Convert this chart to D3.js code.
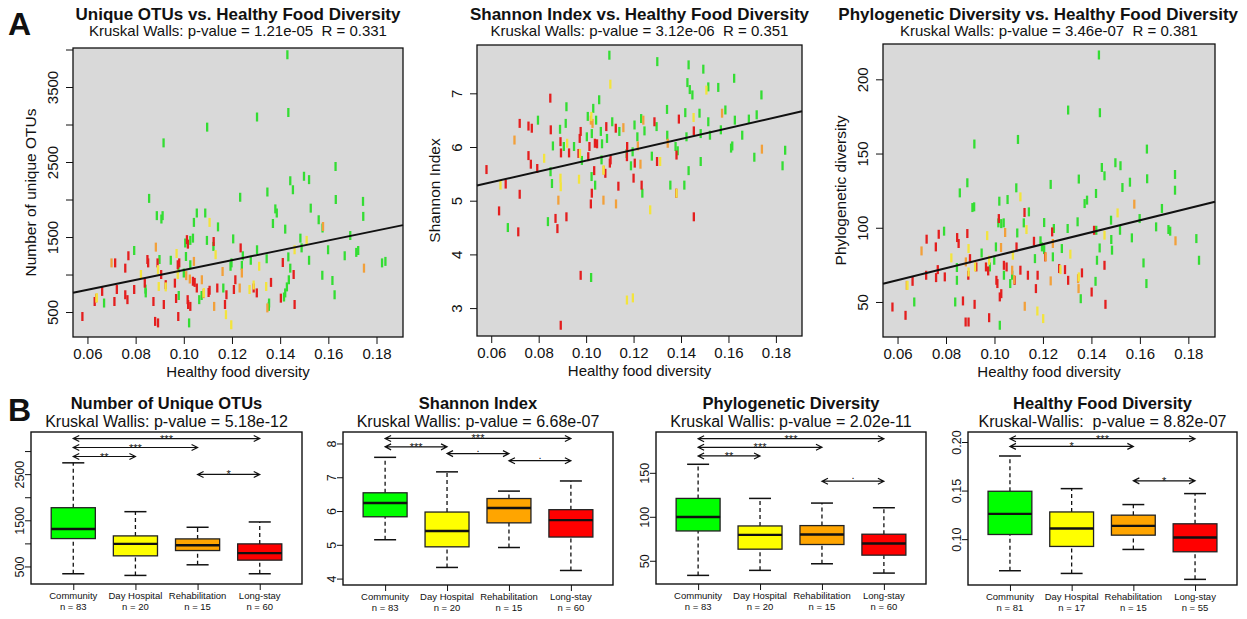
<!DOCTYPE html>
<meta charset="utf-8">
<script src="https://cdn.jsdelivr.net/npm/d3@7"></script>
<style>
body{margin:0;background:#fff;}
text{font-family:"Liberation Sans",Arial,sans-serif;fill:#111;}
</style>
<body>
<script>
// ---- data ----
var groups = ["Community","Day Hospital","Rehabilitation","Long-stay"];
var groupN = [83,20,15,60];
var hfdN = [81,17,15,55];
var boxFill = ["#00ff00","#ffff00","#ffa500","#ff0000"];
var dotColour = ["#33dd33","#f3e43c","#f2a03a","#e41e1e"];

var hfdDomain = [0.054,0.191];
var hfdTicks = [0.06,0.08,0.10,0.12,0.14,0.16,0.18];

// scatter points: [healthy food diversity, value, group index]
var otuPoints = [
[0.143,3930,0],[0.1434,3160,0],[0.1304,3100,0],[0.1097,2965,0],[0.0916,2755,0],[0.0856,2015,0],[0.163,2440,0],[0.1499,2310,0],
[0.152,2265,0],[0.1442,2250,0],[0.1453,2130,0],[0.1347,2100,0],[0.1234,2030,0],[0.1631,2000,0],[0.1744,1975,0],[0.1527,1885,0],
[0.138,1875,0],[0.1386,1820,0],[0.1054,1820,0],[0.1089,1820,0],[0.0888,1785,0],[0.0912,1785,0],[0.0907,1740,0],[0.1745,1775,0],
[0.1042,1695,0],[0.156,1730,0],[0.137,1680,0],[0.1142,1635,0],[0.1421,1605,0],[0.1576,1620,0],[0.1691,1520,0],[0.1205,1475,0],
[0.1484,1485,0],[0.1006,1420,0],[0.1038,1485,0],[0.1027,1455,0],[0.1096,1455,0],[0.1123,1375,0],[0.0794,1320,0],[0.1304,1330,0],
[0.1599,1330,0],[0.1489,1355,0],[0.1716,1295,0],[0.1724,1320,0],[0.1009,1240,0],[0.0946,1190,0],[0.1344,1210,0],[0.1434,1235,0],
[0.1668,1250,0],[0.1245,1250,0],[0.1278,1190,0],[0.1241,1120,0],[0.1198,1155,0],[0.1194,1110,0],[0.1823,1155,0],[0.1837,1175,0],
[0.152,1190,0],[0.1027,1130,0],[0.1,1020,0],[0.0978,1085,0],[0.1442,1085,0],[0.1575,990,0],[0.1617,920,0],[0.1436,930,0],
[0.0841,805,0],[0.0842,755,0],[0.1428,835,0],[0.1421,755,0],[0.1416,700,0],[0.1626,730,0],[0.1064,665,0],[0.1074,720,0],
[0.1164,820,0],[0.0669,620,0],[0.0979,720,0],[0.1353,575,0],[0.1354,620,0],[0.1022,355,0],[0.0899,1200,0],
[0.0579,440,3],[0.063,640,3],[0.0661,775,3],[0.0715,1155,3],[0.0712,640,3],[0.0722,800,3],[0.0757,1085,3],[0.0757,730,3],
[0.0766,665,3],[0.077,1250,3],[0.0794,800,3],[0.0849,1200,3],[0.0838,885,3],[0.0852,1155,3],[0.0874,640,3],[0.0881,375,3],
[0.0893,355,3],[0.0891,1155,3],[0.0906,1000,3],[0.0917,600,3],[0.0925,865,3],[0.0963,885,3],[0.0968,680,3],[0.0977,440,3],
[0.0975,1130,3],[0.0981,1155,3],[0.1013,1465,3],[0.1016,665,3],[0.1018,600,3],[0.1027,575,3],[0.1017,1405,3],[0.1038,910,3],
[0.1054,820,3],[0.1103,760,3],[0.1107,790,3],[0.1124,1440,3],[0.1139,820,3],[0.1171,600,3],[0.1177,730,3],[0.1214,930,3],
[0.1236,1355,3],[0.129,820,3],[0.1303,755,3],[0.1362,895,3],[0.1411,1160,3],[0.1403,685,3],[0.1456,1000,3],[0.146,600,3],
[0.1208,800,3],[0.1045,895,3],
[0.07,1155,2],[0.0636,685,2],[0.0884,1365,2],[0.101,985,2],[0.1025,940,2],[0.1042,1175,2],[0.1075,930,2],[0.1126,575,2],
[0.1161,1040,2],[0.1232,820,2],[0.1241,1020,2],[0.1347,555,2],[0.1578,1640,2],[0.1748,1085,2],[0.1082,745,2],
[0.0639,690,1],[0.0822,1000,1],[0.0893,1065,1],[0.0896,840,1],[0.097,1280,1],[0.0975,1000,1],[0.1107,1695,1],[0.1132,1265,1],
[0.1083,760,1],[0.1175,465,1],[0.1197,330,1],[0.1273,800,1],[0.1313,1110,1],[0.1342,840,1],[0.146,1330,1],[0.151,1455,1],
[0.0925,835,1],[0.129,860,1]
];

var shannonPoints = [
[0.1098,7.71,0],[0.13,7.59,0],[0.1432,7.53,0],[0.1494,7.45,0],[0.1624,7.28,0],[0.1427,7.2,0],[0.1437,7.07,0],[0.1448,6.97,0],
[0.1515,7.12,0],[0.1557,7.11,0],[0.1739,6.97,0],[0.1055,6.88,0],[0.0917,6.75,0],[0.103,6.72,0],[0.1341,6.7,0],[0.1418,6.64,0],
[0.1587,6.69,0],[0.1478,6.63,0],[0.1007,6.57,0],[0.1042,6.5,0],[0.111,6.47,0],[0.1232,6.53,0],[0.1515,6.47,0],[0.1627,6.5,0],
[0.1719,6.6,0],[0.1686,6.52,0],[0.1204,6.41,0],[0.0914,6.44,0],[0.0797,6.5,0],[0.089,6.33,0],[0.1297,6.38,0],[0.1246,6.3,0],
[0.114,6.29,0],[0.1062,6.29,0],[0.1024,6.25,0],[0.1342,6.22,0],[0.1423,6.19,0],[0.1568,6.32,0],[0.1522,6.22,0],[0.1658,6.22,0],
[0.1483,6.25,0],[0.1088,6.16,0],[0.1216,6.19,0],[0.1003,6.19,0],[0.086,6.02,0],[0.0949,6.01,0],[0.0906,6.01,0],[0.1067,6.06,0],
[0.1377,6.01,0],[0.1386,5.93,0],[0.1616,6.02,0],[0.1611,5.98,0],[0.1277,5.83,0],[0.1196,5.91,0],[0.1171,5.88,0],[0.1189,5.65,0],
[0.1065,5.76,0],[0.0982,5.75,0],[0.1483,5.73,0],[0.1709,5.81,0],[0.1839,5.94,0],[0.1828,5.65,0],[0.1432,5.56,0],[0.1023,5.45,0],
[0.085,5.54,0],[0.1038,5.29,0],[0.0856,5.32,0],[0.1237,5.14,0],[0.1355,5.29,0],[0.1414,5.29,0],[0.0839,4.61,0],[0.067,4.5,0],
[0.1021,3.57,0],
[0.058,5.58,3],[0.0661,5.31,3],[0.0633,4.81,3],[0.072,5.12,3],[0.0714,4.42,3],[0.072,6.44,3],[0.0757,6.39,3],[0.0771,6.35,3],
[0.0757,5.84,3],[0.0767,5.68,3],[0.0794,5.6,3],[0.0849,6.91,3],[0.0851,6.32,3],[0.0892,6.1,3],[0.0894,5.89,3],[0.0928,5.89,3],
[0.0968,5.88,3],[0.0977,6.29,3],[0.0973,6.16,3],[0.0871,4.67,3],[0.0879,4.48,3],[0.0917,4.7,3],[0.0977,3.61,3],[0.0893,2.68,3],
[0.1009,5.82,3],[0.1014,6.01,3],[0.1037,6.07,3],[0.1034,5.56,3],[0.1046,6.06,3],[0.1024,5.14,3],[0.102,4.94,3],[0.1081,5.51,3],
[0.1085,6.38,3],[0.11,5.7,3],[0.1103,5.76,3],[0.1125,6.35,3],[0.1136,5.27,3],[0.1173,6.01,3],[0.1172,5.82,3],[0.12,5.42,3],
[0.1205,5.7,3],[0.1234,5.29,3],[0.1288,6.47,3],[0.1299,5.73,3],[0.138,5.14,3],[0.1381,5.85,3],[0.1391,6.52,3],[0.1454,6.3,3],
[0.1454,4.7,3],
[0.0698,6.13,2],[0.0883,5.01,2],[0.102,6.5,2],[0.1027,6.44,2],[0.1073,5.01,2],[0.1126,4.94,2],[0.1157,6.36,2],[0.1218,6.02,2],
[0.1229,5.68,2],[0.1241,6.5,2],[0.1344,6.07,2],[0.1573,6.63,2],[0.1741,5.96,2],[0.1074,5.57,2],
[0.0639,5.29,1],[0.0823,5.79,1],[0.0892,5.42,1],[0.0893,5.26,1],[0.097,5.4,1],[0.0974,5.88,1],[0.092,6.07,1],[0.1102,7.17,1],
[0.1172,3.15,1],[0.1197,3.19,1],[0.127,4.83,1],[0.1312,5.73,1],[0.1381,5.14,1],[0.1453,6.55,1],[0.1507,7.06,1],[0.1073,5.57,1],
[0.1022,6.57,1]
];

var pdPoints = [
[0.1431,216.4,0],[0.1435,177.5,0],[0.1304,179.3,0],[0.1097,159.5,0],[0.0917,156.4,0],[0.0857,123.5,0],[0.1629,153,0],[0.1499,143.8,0],
[0.152,141.8,0],[0.1443,140.6,0],[0.1454,135,0],[0.1348,132.8,0],[0.1232,129.2,0],[0.163,133,0],[0.1745,135.9,0],[0.1745,125.3,0],
[0.1528,127.1,0],[0.1559,130.7,0],[0.0888,130.3,0],[0.109,126.9,0],[0.1054,119,0],[0.102,117.9,0],[0.0909,113.6,0],[0.0916,114.1,0],
[0.1419,123.1,0],[0.1372,116.3,0],[0.1382,118.6,0],[0.1142,110.7,0],[0.1121,103.3,0],[0.1691,113,0],[0.1567,93.2,0],[0.1667,100.6,0],
[0.1718,98.8,0],[0.1725,97.7,0],[0.1599,106.2,0],[0.1481,105.1,0],[0.1482,92.1,0],[0.1518,98.3,0],[0.0792,97.7,0],[0.1205,103.5,0],
[0.1016,103.3,0],[0.1028,102.8,0],[0.1038,103.3,0],[0.1343,104,0],[0.1302,99.5,0],[0.1245,99.5,0],[0.142,98.3,0],[0.1094,96.5,0],
[0.1006,87.1,0],[0.0947,83,0],[0.1434,86.4,0],[0.1485,84.9,0],[0.1278,86,0],[0.119,91.2,0],[0.1196,87.1,0],[0.1205,85.3,0],
[0.1167,79.2,0],[0.1241,80.4,0],[0.1844,78.1,0],[0.1833,92.7,0],[0.1615,76.3,0],[0.1423,78.1,0],[0.1627,62.4,0],[0.1417,63.9,0],
[0.1356,52.2,0],[0.0845,73.2,0],[0.0845,64.6,0],[0.0838,50,0],[0.0669,50,0],[0.0999,78.1,0],[0.1039,68,0],[0.1065,62.4,0],
[0.1073,68,0],[0.1022,34.3,0],[0.0981,73.6,0],
[0.0579,46.6,3],[0.0633,41,3],[0.0662,63.9,3],[0.0718,68,3],[0.072,92.3,3],[0.0758,87.1,3],[0.077,95.6,3],[0.0766,71.8,3],
[0.0795,66.9,3],[0.0759,66.4,3],[0.0846,93.4,3],[0.0852,89.4,3],[0.0888,96.1,3],[0.087,50.7,3],[0.0881,36.5,3],[0.0893,36.5,3],
[0.0899,79.2,3],[0.0892,68,3],[0.0918,48.4,3],[0.0925,73.6,3],[0.0965,73.6,3],[0.0974,70.9,3],[0.0978,39.4,3],[0.1018,106.2,3],
[0.1008,64.6,3],[0.1012,62.4,3],[0.1022,53.4,3],[0.1028,55.6,3],[0.1039,74.7,3],[0.105,73.6,3],[0.1091,87.1,3],[0.1083,64.6,3],
[0.1107,71.4,3],[0.1124,110.3,3],[0.1138,68,3],[0.1163,90.9,3],[0.1171,59,3],[0.1178,68,3],[0.1209,80.4,3],[0.1238,97.2,3],
[0.1267,72.5,3],[0.1291,71.8,3],[0.1304,64.6,3],[0.1361,69.6,3],[0.1401,56.7,3],[0.1411,98.3,3],[0.1454,74.7,3],[0.1458,48.4,3],
[0.0699,84.4,2],[0.0638,61.2,2],[0.0882,77,2],[0.1027,86.7,2],[0.1044,96.8,2],[0.1073,71.4,2],[0.1081,65.1,2],[0.1125,47.1,2],
[0.1211,80.4,2],[0.1232,64.2,2],[0.1241,89.4,2],[0.1345,65.7,2],[0.1347,59,2],[0.1577,115.9,2],[0.1747,91.2,2],
[0.0641,61.2,1],[0.0822,79.7,1],[0.0893,86,1],[0.0893,70.2,1],[0.097,94.7,1],[0.0978,78.1,1],[0.1107,120.8,1],[0.1132,98.8,1],
[0.1177,43.9,1],[0.1201,38.8,1],[0.1272,71.8,1],[0.1313,82.2,1],[0.1348,66.9,1],[0.1454,95,1],[0.1508,110,1],[0.092,73.6,1],
[0.1076,81.5,1]
];

// fitted lines: [intercept, slope]
var otuFit = [401.6,6582];
var shannonFit = [4.738,10.09];
var pdFit = [40.57,402.8];

// box stats: [lower whisker, q1, median, q3, upper whisker]
var otuBoxes = [[342,1104,1313,1773,2745],[306,730,989,1162,1687],[536,845,960,1097,1349],[342,637,788,989,1464]];
var shannonBoxes = [[5.15,5.83,6.24,6.54,7.59],[4.33,4.94,5.41,5.97,7.16],[4.92,5.65,6.09,6.37,6.59],[4.24,5.23,5.73,6.04,6.89]];
var pdBoxes = [[33.4,83.9,99.8,120.9,159.7],[39.1,63.2,79.4,89.6,120.9],[46.6,68.5,79.8,90.0,115.6],[36.0,56.4,69.6,80.2,110.3]];
var hfdBoxes = [[0.0675,0.1048,0.126,0.1493,0.1856],[0.0647,0.0925,0.111,0.128,0.152],[0.0894,0.1041,0.1137,0.1247,0.1356],[0.0586,0.087,0.1017,0.1158,0.1469]];

// pairwise tests: [from group, to group, height, stars]
var otuTests = [[0,3,3271,"***"],[0,2,3077,"***"],[0,1,2882,"**"],[2,3,2494,"*"]];
var shannonTests = [[0,3,8.15,"***"],[0,1,7.90,"***"],[1,2,7.70,"."],[2,3,7.49,"."]];
var pdTests = [[0,3,188.8,"***"],[0,2,179.0,"***"],[0,1,169.2,"**"],[2,3,140.5,"."]];
var hfdTests = [[0,3,0.2034,"***"],[0,2,0.1955,"*"],[2,3,0.16,"*"]];

// ---- drawing ----
var FONT = "Liberation Sans, Arial, sans-serif";
var svg = d3.select("body").append("svg").attr("width",1247).attr("height",619);

svg.append("text").attr("x",8).attr("y",35).attr("font-size",32).attr("font-weight","bold").text("A");
svg.append("text").attr("x",8).attr("y",421).attr("font-size",32).attr("font-weight","bold").text("B");

function titles(cx, y1, y2, t1, t2, fs1, fs2){
  var a = svg.append("text").attr("x",cx).attr("y",y1).attr("text-anchor","middle")
     .attr("font-size",fs1).attr("font-weight","bold").text(t1);
  var w = a.node().getComputedTextLength();
  if(cx + w/2 > 1238) a.attr("x",1238 - w/2);
  svg.append("text").attr("x",cx).attr("y",y2).attr("text-anchor","middle")
     .attr("font-size",fs2).attr("xml:space","preserve").text(t2);
}

function scatterPanel(p){
  var x = d3.scaleLinear().domain(hfdDomain).range([p.left,p.right]);
  var y = d3.scaleLinear().domain(p.yDomain).range([p.bottom,p.top]);
  var g = svg.append("g");
  g.append("rect").attr("x",p.left).attr("y",p.top)
    .attr("width",p.right-p.left).attr("height",p.bottom-p.top).attr("fill","#d9d9d9");

  g.selectAll("line.pt").data(p.points).enter().append("line")
    .attr("class","pt")
    .attr("x1",function(d){return x(d[0]);}).attr("x2",function(d){return x(d[0]);})
    .attr("y1",function(d){return y(d[1])-4.5;}).attr("y2",function(d){return y(d[1])+4.5;})
    .attr("stroke",function(d){return dotColour[d[2]];}).attr("stroke-width",2.3);

  var f = p.fit;
  g.append("line")
    .attr("x1",x(hfdDomain[0])).attr("y1",y(f[0]+f[1]*hfdDomain[0]))
    .attr("x2",x(hfdDomain[1])).attr("y2",y(f[0]+f[1]*hfdDomain[1]))
    .attr("stroke","#111").attr("stroke-width",2);

  g.append("rect").attr("x",p.left).attr("y",p.top)
    .attr("width",p.right-p.left).attr("height",p.bottom-p.top)
    .attr("fill","none").attr("stroke","#111").attr("stroke-width",1.3);

  var xa = g.append("g").attr("transform","translate(0,"+p.bottom+")")
    .call(d3.axisBottom(x).tickValues(hfdTicks).tickFormat(d3.format(".2f")).tickSize(7).tickSizeOuter(0));
  xa.attr("font-family",FONT).attr("font-size",15);
  xa.select(".domain").remove();
  xa.selectAll("line").attr("stroke","#111");
  xa.selectAll("text").attr("y",11);

  var ya = g.append("g").attr("transform","translate("+p.left+",0)")
    .call(d3.axisLeft(y).tickValues(p.ticks).tickSize(7).tickSizeOuter(0)
      .tickFormat(function(d){return p.labels.indexOf(d)>=0 ? d : "";}));
  ya.attr("font-family",FONT).attr("font-size",15);
  ya.select(".domain").remove();
  ya.selectAll("line").attr("stroke","#111");
  ya.selectAll("text").attr("transform","rotate(-90)").attr("text-anchor","middle")
    .attr("x",0).attr("y",-20).attr("dy","0.36em");

  g.append("text").attr("x",(p.left+p.right)/2).attr("y",p.bottom+40)
    .attr("text-anchor","middle").attr("font-size",15).text("Healthy food diversity");
  g.append("text").attr("transform","translate("+(p.left-43)+","+((p.top+p.bottom)/2)+") rotate(-90)")
    .attr("text-anchor","middle").attr("dy","0.36em").attr("font-size",15.5).text(p.ylab);

  titles((p.left+p.right)/2, 19.5, 36, p.title, p.sub, 17, 15);
}

function boxPanel(p){
  var x = d3.scalePoint().domain(groups).range([p.left,p.right]).padding(0.68);
  var y = d3.scaleLinear().domain(p.yDomain).range([p.bottom,p.top]);
  var bw = x.step()*0.71;
  var g = svg.append("g");

  var b = g.selectAll("g.bx").data(p.boxes).enter().append("g").attr("class","bx")
    .attr("transform",function(d,i){return "translate("+x(groups[i])+",0)";});
  b.append("line").attr("y1",function(d){return y(d[3]);}).attr("y2",function(d){return y(d[4]);})
    .attr("stroke","#111").attr("stroke-width",1.3).attr("stroke-dasharray","4,3");
  b.append("line").attr("y1",function(d){return y(d[0]);}).attr("y2",function(d){return y(d[1]);})
    .attr("stroke","#111").attr("stroke-width",1.3).attr("stroke-dasharray","4,3");
  [0,4].forEach(function(k){
    b.append("line").attr("x1",-bw/4).attr("x2",bw/4)
      .attr("y1",function(d){return y(d[k]);}).attr("y2",function(d){return y(d[k]);})
      .attr("stroke","#111").attr("stroke-width",1.5);
  });
  b.append("rect").attr("x",-bw/2).attr("width",bw)
    .attr("y",function(d){return y(d[3]);}).attr("height",function(d){return y(d[1])-y(d[3]);})
    .attr("fill",function(d,i){return boxFill[i];}).attr("stroke","#222").attr("stroke-width",1.3);
  b.append("line").attr("x1",-bw/2).attr("x2",bw/2)
    .attr("y1",function(d){return y(d[2]);}).attr("y2",function(d){return y(d[2]);})
    .attr("stroke","#111").attr("stroke-width",2.4);

  // pairwise arrows
  var t = g.selectAll("g.tst").data(p.tests).enter().append("g").attr("class","tst");
  t.append("path").attr("fill","none").attr("stroke","#111").attr("stroke-width",1.2)
    .attr("d",function(d){
      var x1 = x(groups[d[0]]), x2 = x(groups[d[1]]), yy = y(d[2]);
      return "M"+x1+","+yy+"H"+x2+
        "M"+(x1+6)+","+(yy-3)+"L"+x1+","+yy+"L"+(x1+6)+","+(yy+3)+
        "M"+(x2-6)+","+(yy-3)+"L"+x2+","+yy+"L"+(x2-6)+","+(yy+3);
    });
  t.append("text").attr("text-anchor","middle").attr("font-size",11)
    .attr("x",function(d){return (x(groups[d[0]])+x(groups[d[1]]))/2;})
    .attr("y",function(d){return y(d[2]) + (d[3]=="." ? -2 : 4);})
    .text(function(d){return d[3];});

  g.append("rect").attr("x",p.left).attr("y",p.top)
    .attr("width",p.right-p.left).attr("height",p.bottom-p.top)
    .attr("fill","none").attr("stroke","#111").attr("stroke-width",1.4);

  var xa = g.append("g").attr("transform","translate(0,"+p.bottom+")")
    .call(d3.axisBottom(x).tickSize(6).tickSizeOuter(0).tickFormat(""));
  xa.select(".domain").remove();
  xa.selectAll("line").attr("stroke","#111");
  var lab = g.selectAll("text.cat").data(groups).enter().append("text").attr("class","cat")
    .attr("text-anchor","middle").attr("font-size",9.5)
    .attr("x",function(d){return x(d);}).attr("y",p.bottom+15);
  lab.append("tspan").attr("x",function(d){return x(d);}).text(function(d){return d;});
  lab.append("tspan").attr("x",function(d){return x(d);}).attr("dy",11)
    .text(function(d,i){return "n = "+p.n[i];});

  var ya = g.append("g").attr("transform","translate("+p.left+",0)")
    .call(d3.axisLeft(y).tickValues(p.ticks).tickSize(6).tickSizeOuter(0)
      .tickFormat(function(d){return p.labels.indexOf(d)>=0 ? p.fmt(d) : "";}));
  ya.attr("font-family",FONT).attr("font-size",12.5);
  ya.select(".domain").remove();
  ya.selectAll("line").attr("stroke","#111");
  ya.selectAll("text").attr("transform","rotate(-90)").attr("text-anchor","middle")
    .attr("x",0).attr("y",-12).attr("dy","0.36em");

  titles((p.left+p.right)/2, 409, 426.5, p.title, p.sub, 16.5, 16);
}

scatterPanel({left:73,right:403,top:48,bottom:337,yDomain:[167,4020],points:otuPoints,fit:otuFit,
  ticks:[500,1000,1500,2000,2500,3000,3500,4000],labels:[500,1500,2500,3500],
  ylab:"Number of unique OTUs",title:"Unique OTUs vs. Healthy Food Diversity",
  sub:"Kruskal Walls: p-value = 1.21e-05  R = 0.331"});
scatterPanel({left:477,right:802,top:45,bottom:336,yDomain:[2.48,7.9],points:shannonPoints,fit:shannonFit,
  ticks:[3,4,5,6,7],labels:[3,4,5,6,7],
  ylab:"Shannon Index",title:"Shannon Index vs. Healthy Food Diversity",
  sub:"Kruskal Walls: p-value = 3.12e-06  R = 0.351"});
scatterPanel({left:883,right:1215,top:44,bottom:337,yDomain:[26.4,223.8],points:pdPoints,fit:pdFit,
  ticks:[50,100,150,200],labels:[50,100,150,200],
  ylab:"Phylogenetic diversity",title:"Phylogenetic Diversity vs. Healthy Food Diversity",
  sub:"Kruskal Walls: p-value = 3.46e-07  R = 0.381"});

boxPanel({left:31,right:302,top:432,bottom:584,yDomain:[120,3413],boxes:otuBoxes,tests:otuTests,n:groupN,
  ticks:[500,1000,1500,2000,2500,3000],labels:[500,1500,2500],fmt:String,
  title:"Number of Unique OTUs",sub:"Kruskal Wallis: p-value = 5.18e-12"});
boxPanel({left:343,right:613,top:432,bottom:585,yDomain:[3.81,8.34],boxes:shannonBoxes,tests:shannonTests,n:groupN,
  ticks:[4,5,6,7,8],labels:[4,5,6,7,8],fmt:String,
  title:"Shannon Index",sub:"Kruskal Wallis: p-value = 6.68e-07"});
boxPanel({left:656,right:926,top:432,bottom:584,yDomain:[23.6,196.4],boxes:pdBoxes,tests:pdTests,n:groupN,
  ticks:[50,100,150],labels:[50,100,150],fmt:String,
  title:"Phylogenetic Diversity",sub:"Kruskal Wallis: p-value = 2.02e-11"});
boxPanel({left:968,right:1237,top:432,bottom:585,yDomain:[0.0528,0.2103],boxes:hfdBoxes,tests:hfdTests,n:hfdN,
  ticks:[0.10,0.15,0.20],labels:[0.10,0.15,0.20],fmt:d3.format(".2f"),
  title:"Healthy Food Diversity",sub:"Kruskal-Wallis:  p-value = 8.82e-07"});
</script>
</body>
</html>
